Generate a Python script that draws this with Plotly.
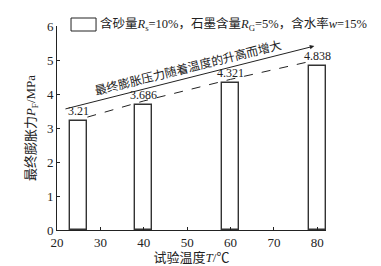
import plotly.graph_objects as go

temps = [25, 40, 60, 80]
pressure = [3.21, 3.686, 4.321, 4.838]
value_labels = ["3.21", "3.686", "4.321", "4.838"]
series_name = "含砂量<i>R</i><sub>s</sub>=10%，石墨含量<i>R</i><sub>G</sub>=5%，含水率<i>w</i>=15%"
trend_text = "最终膨胀压力随着温度的升高而增大"
x_title = "试验温度<i>T</i>/℃"
y_title = "最终膨胀力<i>P</i><sub>F</sub>/MPa"
x_ticks = [20, 30, 40, 50, 60, 70, 80]
y_ticks = [0, 1, 2, 3, 4, 5, 6]

FONT = "Liberation Serif, Noto Sans CJK SC, serif"
INK = "#222"
LABEL_OFFSET = 0.11

fig = go.Figure()
fig.add_trace(go.Bar(
    x=temps, y=pressure, width=4, name=series_name,
    marker=dict(color="white", line=dict(color="#333", width=1.4)),
    cliponaxis=False, showlegend=False,
))

# value labels sitting on the dashed line
for t, v, lab in zip(temps, pressure, value_labels):
    fig.add_annotation(x=t, y=v + LABEL_OFFSET, xref="x", yref="y", text=lab,
                       showarrow=False, yanchor="bottom", yshift=-3,
                       font=dict(family=FONT, size=12, color=INK))

# dashed trend through the value labels
dash_x = [temps[0] + 2] + temps[1:-1] + [temps[-1] - 2]
dash_y = [v + LABEL_OFFSET for v in pressure]
fig.add_trace(go.Scatter(
    x=dash_x, y=dash_y, mode="lines",
    line=dict(color=INK, width=1, dash="dash"), showlegend=False,
))

# solid arrow
fig.add_annotation(
    x=79.3, y=5.41, ax=21.6, ay=3.55, xref="x", yref="y", axref="x", ayref="y",
    showarrow=True, arrowhead=2, arrowsize=0.9, arrowwidth=1, arrowcolor=INK, text="",
)
fig.add_annotation(
    x=50.3, y=4.78, xref="x", yref="y", text=trend_text, showarrow=False,
    textangle=-14, font=dict(family=FONT, size=12, color=INK),
)

# legend (manual)
fig.add_shape(type="rect", xref="paper", yref="paper",
              x0=(71 - 57) / 268.7, x1=(96 - 57) / 268.7,
              y0=(230 - 31) / 204, y1=(230 - 18) / 204,
              line=dict(color=INK, width=1), fillcolor="white")
fig.add_annotation(x=(98 - 57) / 268.7, y=(230 - 24.5) / 204, xref="paper", yref="paper",
                   xanchor="left", yanchor="middle", text=series_name, showarrow=False,
                   font=dict(family=FONT, size=12.5, color=INK))

fig.update_layout(
    width=381, height=266,
    margin=dict(l=57, r=55, t=26, b=36, autoexpand=False),
    plot_bgcolor="white", paper_bgcolor="white",
    font=dict(family=FONT, size=13, color=INK),
    bargap=0,
)
fig.update_xaxes(
    range=[20, 82], tickvals=x_ticks, ticks="inside", ticklen=3, tickcolor=INK,
    showline=True, linecolor=INK, linewidth=1, showgrid=False, zeroline=False,
    title=dict(text=x_title, font=dict(size=13), standoff=2),
    tickfont=dict(size=13), automargin=False,
)
fig.update_yaxes(
    range=[0, 6], tickvals=y_ticks, ticks="inside", ticklen=3, tickcolor=INK,
    showline=True, linecolor=INK, linewidth=1, showgrid=False, zeroline=False,
    title=dict(text=y_title, font=dict(size=13), standoff=8),
    tickfont=dict(size=13), automargin=False,
)

fig.write_html("out.html")
